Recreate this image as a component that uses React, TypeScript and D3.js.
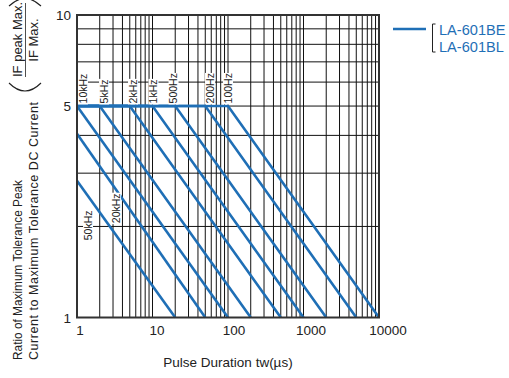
import * as d3 from "d3";

// series: each line sits at ratio 5, bends at kneeTw and reaches 1 at endTw
const freqLabels = ["50kHz", "20kHz", "10kHz", "5kHz", "2kHz", "1kHz", "500Hz", "200Hz", "100Hz"];
const startRatio = [2.83, 4.05, 5, 5, 5, 5, 5, 5, 5]; // ratio at tw = 1µs
const kneeTw = [null, null, 1, 2, 5, 10, 20, 50, 100];
const endTw = [20, 50, 100, 200, 500, 1000, 2000, 5000, 10000];

// where the frequency labels sit (tw, ratio at the bottom end of the rotated text)
const labelTw = [1.4, 3.29, 1.2, 2.28, 5.52, 10.3, 19, 57.8, 100];
const labelRatio = [1.8, 2.05, 5.1, 5.1, 5.1, 5.1, 5.1, 5.1, 5.1];

const xTicks = [1, 10, 100, 1000, 10000];
const yTicks = [1, 5, 10];
const legendNames = ["LA-601BE", "LA-601BL"];

const BLUE = "#1f6fb6";
const INK = "#222";
const FONT = "'Liberation Sans', Arial, Helvetica, sans-serif";

function App() {
  const width = 509;
  const height = 378;
  const left = 77, right = 379, top = 15, bottom = 317.5;

  const x = d3.scaleLog().domain([1, 10000]).range([left, right]);
  const y = d3.scaleLog().domain([1, 10]).range([bottom, top]);

  const series = freqLabels.map((name, i) => {
    const pts: [number, number][] = [[1, startRatio[i]]];
    const k = kneeTw[i];
    if (k !== null && k > 1) pts.push([k, 5]);
    pts.push([endTw[i], 1]);
    return { name, pts };
  });

  const line = d3
    .line<[number, number]>()
    .x((d) => x(d[0]))
    .y((d) => y(d[1]));

  const xGrid = x.ticks().filter((v) => v > 1 && v < 10000);
  const yGrid = y.ticks().filter((v) => v > 1 && v < 10);

  return (
    <svg
      width={width}
      height={height}
      style={{ position: "absolute", left: 0, top: 0, background: "#fff" }}
      fontFamily={FONT}
    >
      {/* grid */}
      <g stroke="#111" strokeWidth={1}>
        {xGrid.map((v) => (
          <line key={"x" + v} x1={x(v)} x2={x(v)} y1={top} y2={bottom} />
        ))}
        {yGrid.map((v) => (
          <line key={"y" + v} x1={left} x2={right} y1={y(v)} y2={y(v)} />
        ))}
      </g>

      {/* curves */}
      <g fill="none" stroke={BLUE} strokeWidth={2.6}>
        {series.map((s) => (
          <path key={s.name} d={line(s.pts) || ""} />
        ))}
      </g>

      {/* frame */}
      <rect x={left} y={top} width={right - left} height={bottom - top} fill="none" stroke="#333" strokeWidth={2} />

      {/* frequency labels */}
      {freqLabels.map((name, i) => {
        const len = name.length * 5.9;
        return (
          <g key={name} transform={`translate(${x(labelTw[i])},${y(labelRatio[i])}) rotate(-90)`}>
            <rect x={-1} y={-5} width={len + 2} height={10} fill="#fff" />
            <text x={0} y={3.8} fontSize={10.5} fill={INK}>
              {name}
            </text>
          </g>
        );
      })}

      {/* axis tick labels */}
      <g fontSize={13.5} fill={INK}>
        {xTicks.map((v, i) => (
          <text key={"tx" + v} x={x(v) + 3 + i * 1.5} y={335} textAnchor="middle">
            {v}
          </text>
        ))}
        {yTicks.map((v) => (
          <text key={"ty" + v} x={71} y={y(v) + 5} textAnchor="end">
            {v}
          </text>
        ))}
      </g>

      {/* x title */}
      <text x={228} y={367} textAnchor="middle" fontSize={13.5} fill={INK}>
        Pulse Duration tw(µs)
      </text>

      {/* y title */}
      <g fill={INK} fontSize={12.5}>
        <text transform="translate(22,360) rotate(-90)" textLength={180} lengthAdjust="spacingAndGlyphs">
          Ratio of Maximum Tolerance Peak
        </text>
        <text transform="translate(38,360) rotate(-90)" textLength={258}>
          Current to Maximum Tolerance DC Current
        </text>
        <text transform="translate(22,77) rotate(-90)" fontSize={13}>IF peak Max.</text>
        <text transform="translate(38,40) rotate(-90)" textAnchor="middle" fontSize={13}>IF Max.</text>
        <line x1={25.5} x2={25.5} y1={3} y2={77} stroke={INK} strokeWidth={0.8} />
        <path d="M9,83 Q25,99 41,83" fill="none" stroke={INK} strokeWidth={1.1} />
        <path d="M9,6 Q25,-9 41,6" fill="none" stroke={INK} strokeWidth={1.1} />
      </g>

      {/* legend */}
      <line x1={393} x2={426} y1={29} y2={29} stroke={BLUE} strokeWidth={2.6} />
      <path d="M435.5,24 H432.5 V52 H435.5" fill="none" stroke={INK} strokeWidth={1} />
      <g fill={BLUE} fontSize={14.6}>
        {legendNames.map((n, i) => (
          <text key={n} x={439} y={34.5 + i * 17}>
            {n}
          </text>
        ))}
      </g>
    </svg>
  );
}

export default App;
